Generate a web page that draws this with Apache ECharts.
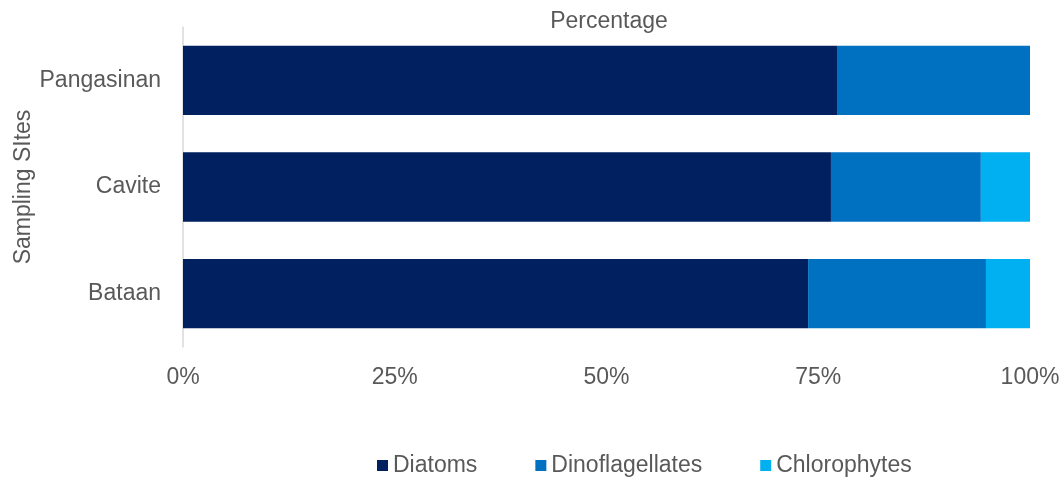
<!DOCTYPE html>
<html>
<head>
<meta charset="utf-8">
<style>
  html, body { margin: 0; padding: 0; background: #ffffff; }
  #chart { width: 1064px; height: 477px; }
</style>
<script src="https://cdn.jsdelivr.net/npm/echarts@6/dist/echarts.min.js"></script>
</head>
<body>
<div id="chart"></div>
<script>
// Phytoplankton composition (%) per sampling site
const sites = ['Bataan', 'Cavite', 'Pangasinan'];
const diatoms = [73.8, 76.5, 77.3];
const dinoflagellates = [21.0, 17.7, 22.7];
const chlorophytes = [5.2, 5.8, 0];
const xTicks = [0, 25, 50, 75, 100];

const textColor = '#595959';
const font = 'Liberation Sans, Arial, sans-serif';

const chart = echarts.init(document.getElementById('chart'), null, { renderer: 'canvas' });

function barSeries(name, data, color) {
  return {
    name: name,
    type: 'bar',
    stack: 'total',
    data: data,
    barCategoryGap: '35%',
    itemStyle: { color: color },
    emphasis: { disabled: true }
  };
}

chart.setOption({
  animation: false,
  textStyle: { fontFamily: font },
  title: {
    text: 'Percentage',
    left: 604,
    top: 5,
    textAlign: 'center',
    textStyle: { color: textColor, fontSize: 23, fontWeight: 'normal', fontFamily: font }
  },
  legend: {
    left: 372,
    top: 449,
    itemWidth: 11,
    itemHeight: 11,
    itemGap: 58,
    icon: 'rect',
    textStyle: { color: textColor, fontSize: 23, fontFamily: font },
    data: ['Diatoms', 'Dinoflagellates', 'Chlorophytes']
  },
  grid: {
    left: 183, right: 34, top: 27, bottom: 130,
    containLabel: false,
    outerBoundsMode: 'none'
  },
  xAxis: {
    type: 'value',
    min: xTicks[0],
    max: xTicks[xTicks.length - 1],
    interval: xTicks[1] - xTicks[0],
    axisLine: { show: false },
    axisTick: { show: false },
    splitLine: { show: false },
    axisLabel: {
      color: textColor,
      fontSize: 23,
      fontFamily: font,
      margin: 19,
      formatter: function (v) { return v + '%'; }
    }
  },
  yAxis: {
    type: 'category',
    data: sites,
    name: 'Sampling SItes',
    nameLocation: 'middle',
    nameGap: 148,
    nameRotate: 90,
    nameMoveOverlap: false,
    nameTextStyle: { color: textColor, fontSize: 23, fontFamily: font },
    axisLine: { show: true, lineStyle: { color: '#d9d9d9', width: 1.5 } },
    axisTick: { show: false },
    axisLabel: { color: textColor, fontSize: 23, fontFamily: font, margin: 22 }
  },
  series: [
    barSeries('Diatoms', diatoms, '#002060'),
    barSeries('Dinoflagellates', dinoflagellates, '#0070C0'),
    barSeries('Chlorophytes', chlorophytes, '#00B0F0')
  ]
});
</script>
</body>
</html>
